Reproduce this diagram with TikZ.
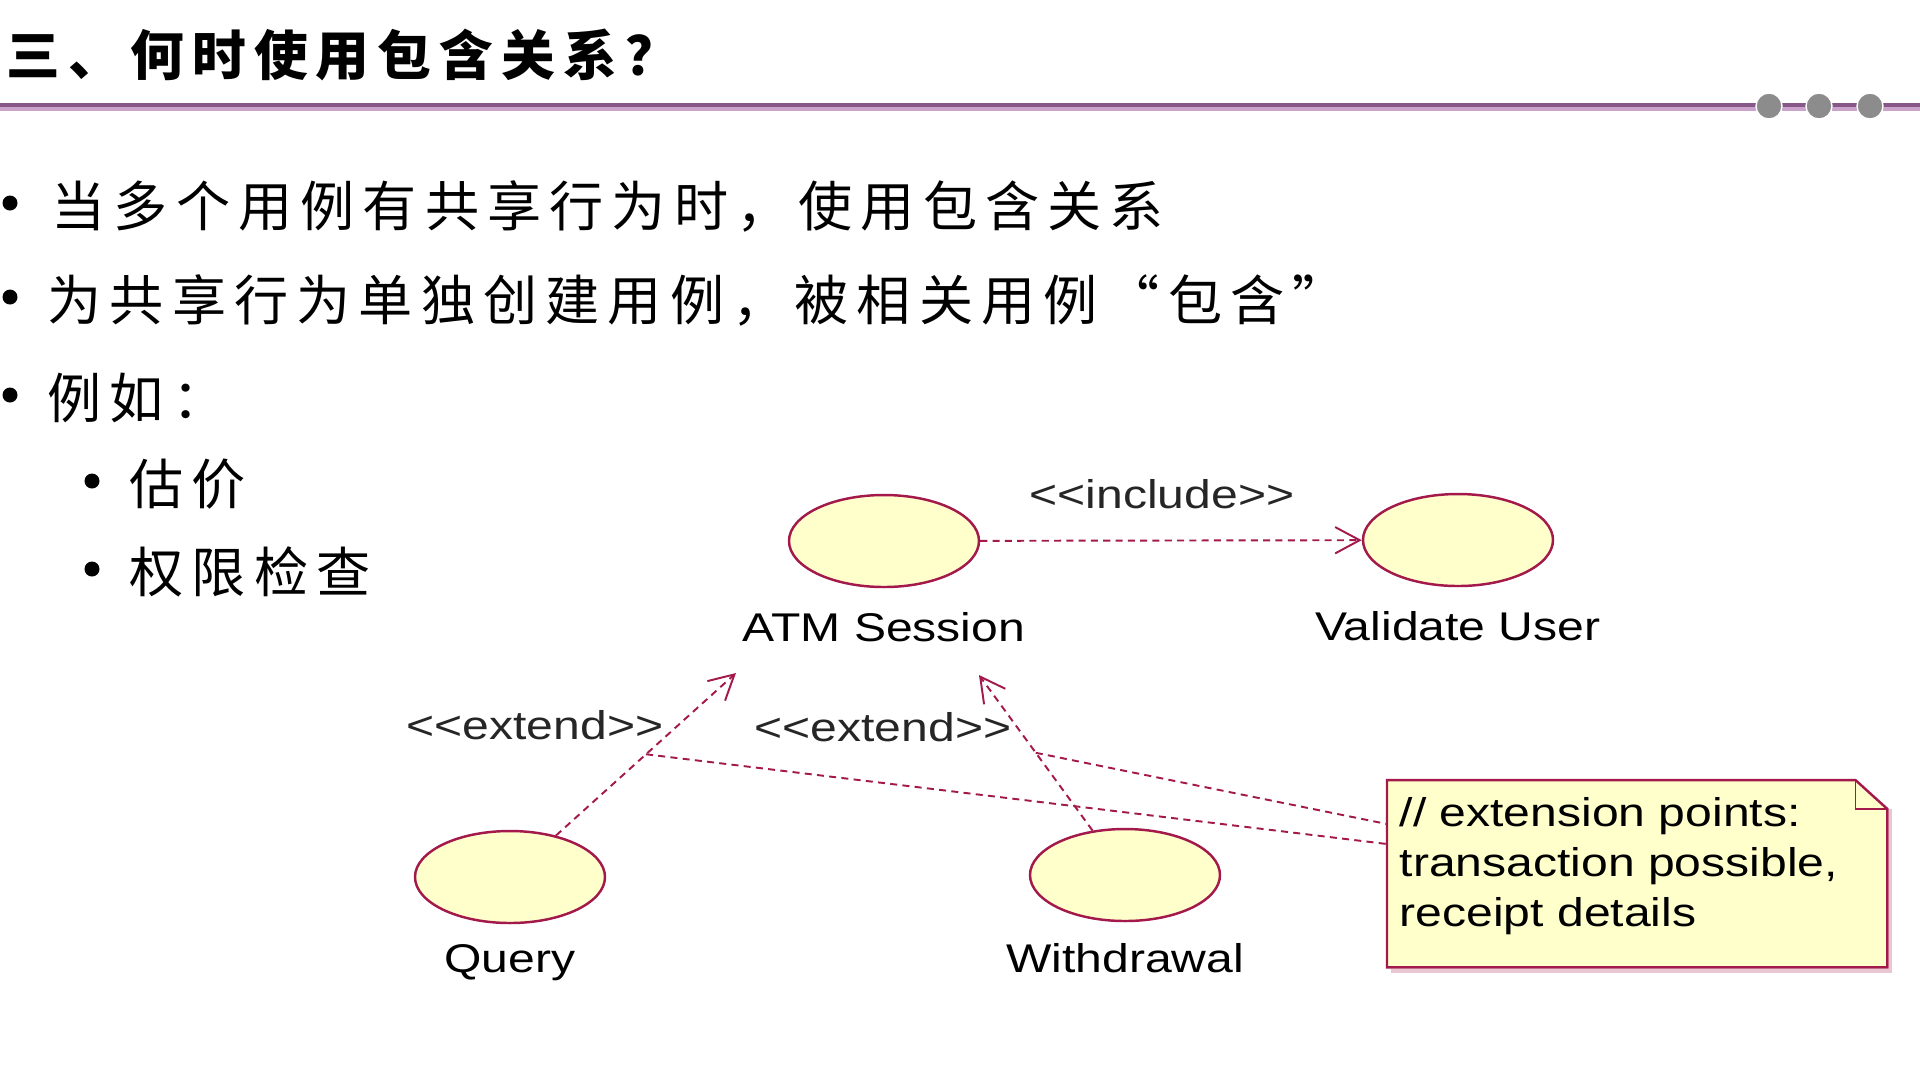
\documentclass[tikz,border=0pt]{standalone}
\usepackage{fontspec}
\setmainfont{Liberation Sans}[FakeStretch=1.2]
\newfontfamily\cjk{Noto Sans CJK SC}[LetterSpace=15,CharacterWidth=Full]
\usetikzlibrary{positioning,arrows.meta,shapes.geometric}

\definecolor{umlred}{HTML}{A3194B}
\definecolor{umlfill}{HTML}{FFFFCC}
\definecolor{bardark}{HTML}{875887}
\definecolor{barlight}{HTML}{C9A3C9}
\definecolor{dotgray}{HTML}{8C8C8C}

\def\latinsize{\fontsize{11.4}{14.2}\selectfont}
\def\cjksize{\fontsize{15.4}{18}\selectfont}

\begin{document}
\begin{tikzpicture}[x=0.1mm,y=-0.1mm,
    usecase/.style={ellipse,draw=umlred,fill=umlfill,line width=0.7pt,
      minimum width=19mm,minimum height=9.2mm,inner sep=0},
    uclabel/.style={inner sep=0,font=\latinsize},
    stereo/.style={inner sep=0,font=\latinsize,text=black!85},
    cjktext/.style={anchor=west,inner sep=0,font=\cjk\cjksize},
    dashline/.style={umlred,line width=0.55pt,dash pattern=on 2pt off 1.5pt},
    depend/.style={dashline,-{Straight Barb[length=7pt,width=7.5pt]}},
    notebox/.style={anchor=north west,inner sep=0,minimum width=49.9mm,minimum height=18.6mm}
    ]
    \useasboundingbox (0,0) rectangle (1920,1080);
    \fill[white] (0,0) rectangle (1920,1080);

    % title and bar
    \node[cjktext,font=\cjk\bfseries\fontsize{15.3}{18}\selectfont] (title) at (6,55) {三、何时使用包含关系？};
    \fill[bardark] (0,103) rectangle (1920,107);
    \fill[barlight] (0,107) rectangle (1920,111);
    \foreach \x in {1769,1819,1870}
      \filldraw[fill=dotgray,draw=white,line width=0.4pt] (\x,106) circle (1.3mm);

    % bullets
    \foreach \n/\x/\y/\t in {one/51/206/当多个用例有共享行为时，使用包含关系,
      two/47/300/为共享行为单独创建用例，被相关用例“包含”,
      three/47/398/例如：} {
      \fill (10,\y-3) circle (0.75mm);
      \node[cjktext] (line\n) at (\x,\y) {\t};
    }
    \foreach \n/\y/\t in {a/484/估价,b/572/权限检查} {
      \fill (92,\y-3) circle (0.75mm);
      \node[cjktext] (sub\n) at (129,\y) {\t};
    }

    % use cases
    \node[usecase] (atm) at (884,541) {};
    \node[uclabel,below=2.4mm of atm] (atmlabel) {ATM Session};
    \node[usecase] (validate) at (1458,540) {};
    \node[uclabel,below=2.4mm of validate] (validatelabel) {Validate User};
    \node[usecase] (query) at (510,877) {};
    \node[uclabel,below=2.0mm of query] (querylabel) {Query};
    \node[usecase] (withdraw) at (1125,875) {};
    \node[uclabel,below=2.1mm of withdraw] (withdrawlabel) {Withdrawal};

    \draw[depend] (atm) -- node[stereo,midway,above=3.1mm,xshift=-0.9mm] (inclabel) {<{}<include>{}>} (validate);

    \coordinate (qtip) at (736,673);
    \coordinate (wtip) at (979,675);
    \draw[depend] (query) -- coordinate[pos=.5] (qmid) (qtip);
    \draw[depend] (withdraw) -- coordinate[pos=.5] (wmid) (wtip);
    \node[stereo] (extleft) at (535,725) {<{}<extend>{}>};
    \node[stereo] (extright) at (883,727) {<{}<extend>{}>};

    % note
    \node[notebox] (note) at (1387,780) {};
    \draw[umlred!25,line width=0.9pt] ([shift={(0.35mm,-2.9mm)}]note.north east)
      -- ([shift={(0.35mm,-0.35mm)}]note.south east) -- ([shift={(0.35mm,-0.35mm)}]note.south west);
    \draw[umlred,fill=umlfill,line width=0.7pt] (note.south west) -- (note.north west)
      -- ([xshift=-3.2mm]note.north east) -- ([yshift=-2.9mm]note.north east)
      -- (note.south east) -- cycle;
    \draw[umlred,line width=0.5pt] ([xshift=-3.2mm]note.north east) |- ([yshift=-2.9mm]note.north east);
    \node[uclabel,align=left,anchor=north west] (notetext) at ([xshift=1.2mm,yshift=-1.7mm]note.north west)
      {// extension points:\\transaction possible,\\receipt details};

    \draw[dashline] (qmid) -- ([yshift=-6.4mm]note.north west);
    \draw[dashline] (wmid) -- ([yshift=-4.4mm]note.north west);
  \end{tikzpicture}
\end{document}
